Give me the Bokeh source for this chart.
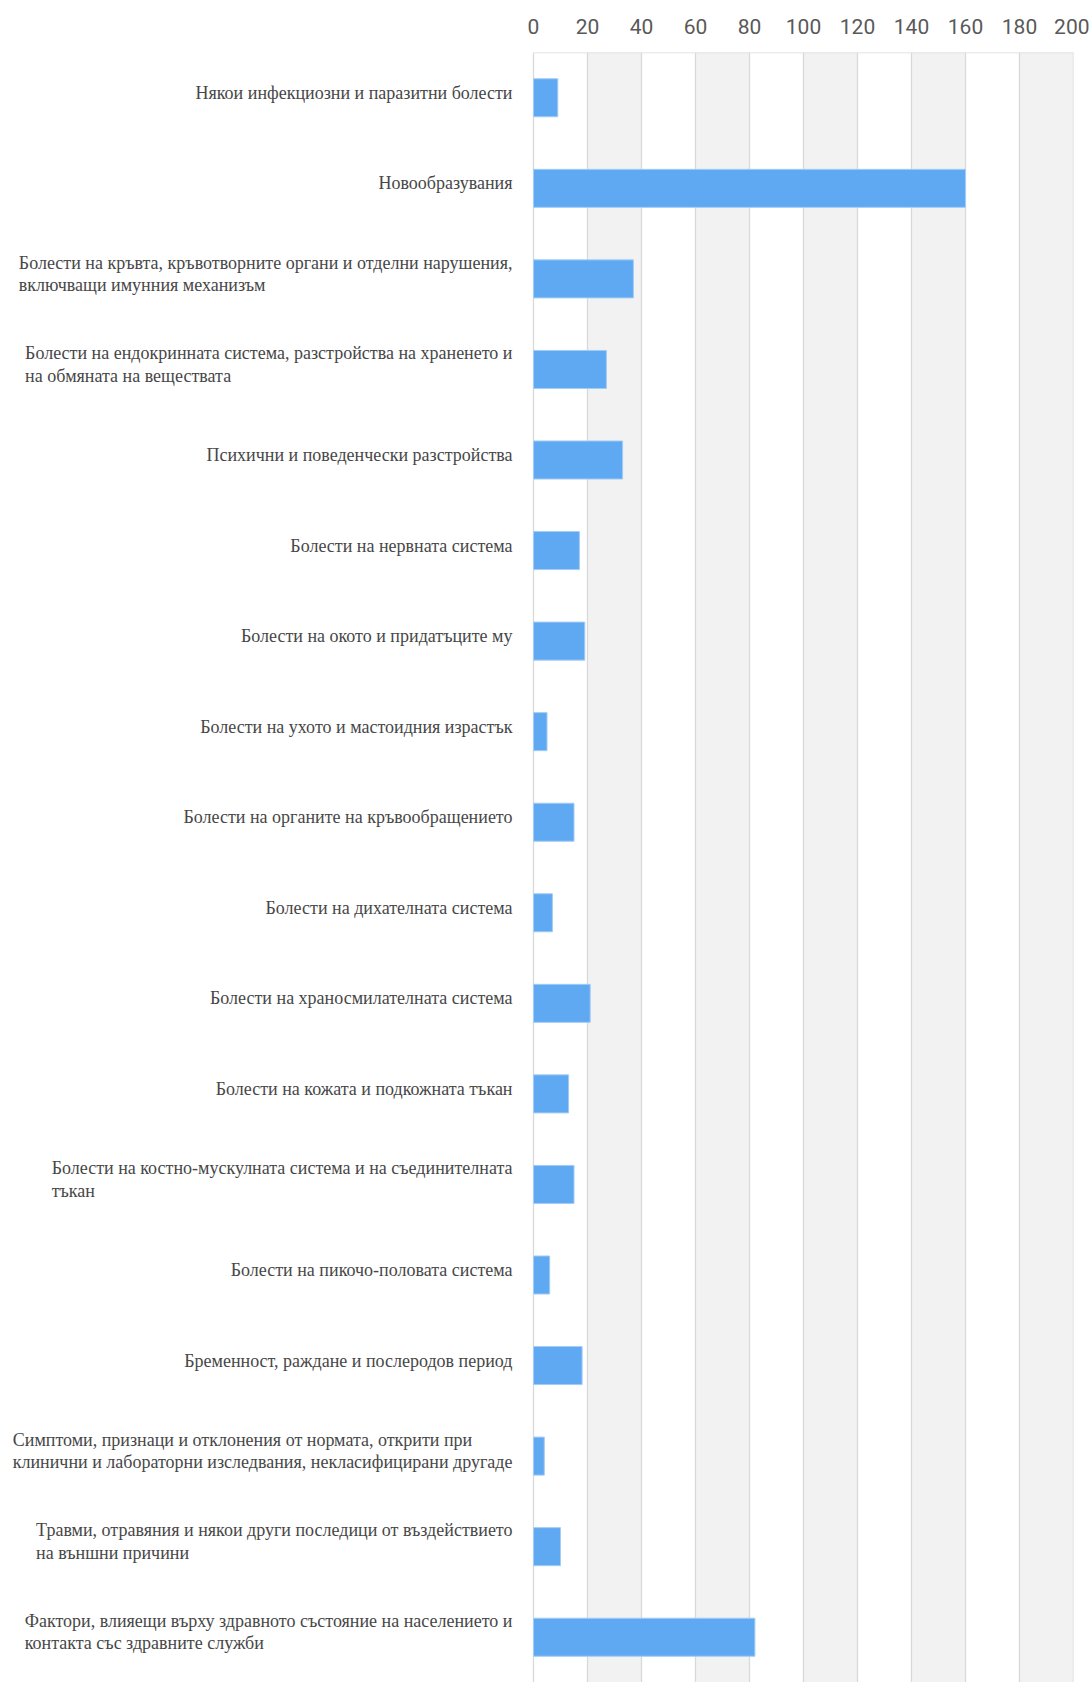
from bokeh.plotting import figure
from bokeh.models import Range1d, FactorRange, FixedTicker, BoxAnnotation, Span, ColumnDataSource
from bokeh.transform import dodge
from bokeh.core.properties import value
from bokeh.embed import file_html
from bokeh.resources import INLINE

categories = [
    "Някои инфекциозни и паразитни болести",
    "Новообразувания",
    "Болести на кръвта, кръвотворните органи и отделни нарушения,\nвключващи имунния механизъм",
    "Болести на ендокринната система, разстройства на храненето и\nна обмяната на веществата",
    "Психични и поведенчески разстройства",
    "Болести на нервната система",
    "Болести на окото и придатъците му",
    "Болести на ухото и мастоидния израстък",
    "Болести на органите на кръвообращението",
    "Болести на дихателната система",
    "Болести на храносмилателната система",
    "Болести на кожата и подкожната тъкан",
    "Болести на костно-мускулната система и на съединителната\nтъкан",
    "Болести на пикочо-половата система",
    "Бременност, раждане и послеродов период",
    "Симптоми, признаци и отклонения от нормата, открити при\nклинични и лабораторни изследвания, некласифицирани другаде",
    "Травми, отравяния и някои други последици от въздействието\nна външни причини",
    "Фактори, влияещи върху здравното състояние на населението и\nконтакта със здравните служби",
]
values = [9, 160, 37, 27, 33, 17, 19, 5, 15, 7, 21, 13, 15, 6, 18, 4, 10, 82]
x_ticks = [0, 20, 40, 60, 80, 100, 120, 140, 160, 180, 200]
shaded_bands = [(20, 40), (60, 80), (100, 120), (140, 160), (180, 200)]
x_max = 200

W, H = 1089, 1682
border_right = 16
label_area_px = 533
px_per_unit = (W - border_right - label_area_px) / x_max
x_start = -label_area_px / px_per_unit

src = ColumnDataSource(dict(cat=categories, val=values))

p = figure(
    width=W, height=H,
    x_range=Range1d(x_start, x_max),
    y_range=FactorRange(factors=list(reversed(categories))),
    x_axis_location="above", y_axis_location=None,
    output_backend="svg", toolbar_location=None,
    min_border_left=0, min_border_right=border_right,
    min_border_top=52, min_border_bottom=0,
)
p.outline_line_color = None
p.xgrid.grid_line_color = None
p.ygrid.grid_line_color = None
p.background_fill_color = "white"
p.border_fill_color = "white"

ax = p.xaxis[0]
ax.ticker = FixedTicker(ticks=x_ticks)
ax.axis_line_color = None
ax.major_tick_line_color = None
ax.minor_tick_line_color = None
ax.major_label_standoff = 13
ax.major_label_text_font = "Roboto"
ax.major_label_text_font_size = "21px"
ax.major_label_text_color = "#595959"

for a, b in shaded_bands:
    p.add_layout(BoxAnnotation(left=a, right=b, fill_color="#f2f2f2", fill_alpha=1.0,
                               line_color=None, level="underlay"))
for t in x_ticks:
    p.add_layout(Span(location=t, dimension="height", line_color="#d9d9d9",
                      line_width=1.3, level="underlay"))

top_src = ColumnDataSource(dict(cat=[categories[0]]))
p.segment(x0=0, x1=x_max, y0=dodge("cat", 0.5, range=p.y_range),
          y1=dodge("cat", 0.5, range=p.y_range), source=top_src,
          line_color="#d9d9d9", line_width=1.5)

p.hbar(y="cat", left=0, right="val", height=0.42, source=src,
       fill_color="#5fa8f2", line_color="#a3ccf6", line_width=1)

p.text(x=0, y="cat", text="cat", source=src, x_offset=-21, y_offset=-5,
       anchor="center_right", text_align="left", text_baseline="middle",
       text_font=value("Liberation Serif"), text_font_size="18px",
       text_color="#474747", text_line_height=1.12)

open("out.html", "w").write(file_html(p, INLINE))
